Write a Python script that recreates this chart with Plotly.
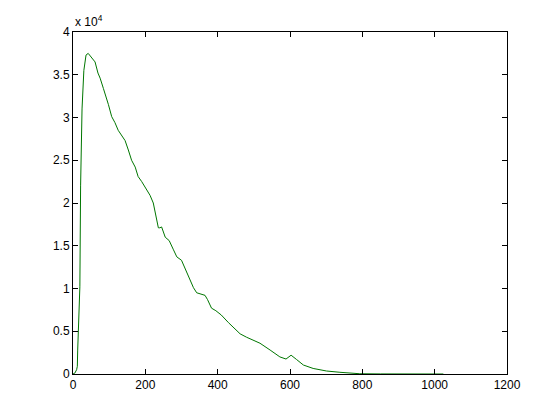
import plotly.graph_objects as go

x_vals = [0, 5, 10, 12, 13, 15, 17, 19, 21, 25, 30, 36, 42, 49, 54, 61, 69, 75, 84, 88,
          98, 107, 116, 125, 135, 144, 153, 162, 172, 180, 190, 199, 213, 222, 231, 236,
          240, 245, 255, 266, 277, 287, 300, 310, 322, 333, 342, 355, 365, 372, 383, 395,
          410, 430, 450, 462, 480, 500, 517, 545, 572, 589, 603, 618, 637, 664, 701, 738,
          757, 793, 850, 900, 1000, 1024]
y_vals = [0, 100, 500, 900, 2800, 6000, 9800, 10200, 22000, 31000, 35500, 37300, 37500,
          37100, 36800, 36500, 35200, 34600, 33400, 32900, 31500, 30100, 29400, 28500,
          27900, 27300, 26200, 25000, 24200, 23100, 22500, 21900, 20900, 20000, 18000,
          17100, 17100, 17200, 16000, 15600, 14600, 13700, 13300, 12300, 11200, 10100,
          9500, 9300, 9200, 8700, 7700, 7400, 6900, 6000, 5200, 4700, 4300, 3900, 3600,
          2800, 2000, 1750, 2200, 1700, 1050, 650, 350, 200, 120, 30, 10, 5, 0, 0]

x_ticks = [0, 200, 400, 600, 800, 1000, 1200]
y_ticks = [0, 5000, 10000, 15000, 20000, 25000, 30000, 35000, 40000]
y_tick_text = ["0", "0.5", "1", "1.5", "2", "2.5", "3", "3.5", "4"]

font = dict(family="Liberation Sans, Arial, Helvetica, sans-serif", size=12, color="black")

fig = go.Figure()
fig.add_trace(go.Scatter(x=x_vals, y=y_vals, mode="lines",
                         line=dict(color="rgb(0,118,0)", width=1), showlegend=False))

axis_common = dict(showgrid=False, zeroline=False, showline=True, linecolor="black",
                   linewidth=1, mirror="ticks", ticks="inside", ticklen=5,
                   tickcolor="black", tickfont=font)

fig.update_xaxes(range=[0, 1200], tickvals=x_ticks, **axis_common)
fig.update_yaxes(range=[0, 40000], tickvals=y_ticks, ticktext=y_tick_text, **axis_common)

fig.add_annotation(xref="paper", yref="paper", x=0, y=1, xanchor="left", yanchor="bottom",
                   text="x 10<sup>4</sup>", showarrow=False, font=font, yshift=1)

fig.update_layout(width=552, height=412, paper_bgcolor="white", plot_bgcolor="white",
                  margin=dict(l=65, r=53, t=24, b=46))

fig.write_html("out.html")
